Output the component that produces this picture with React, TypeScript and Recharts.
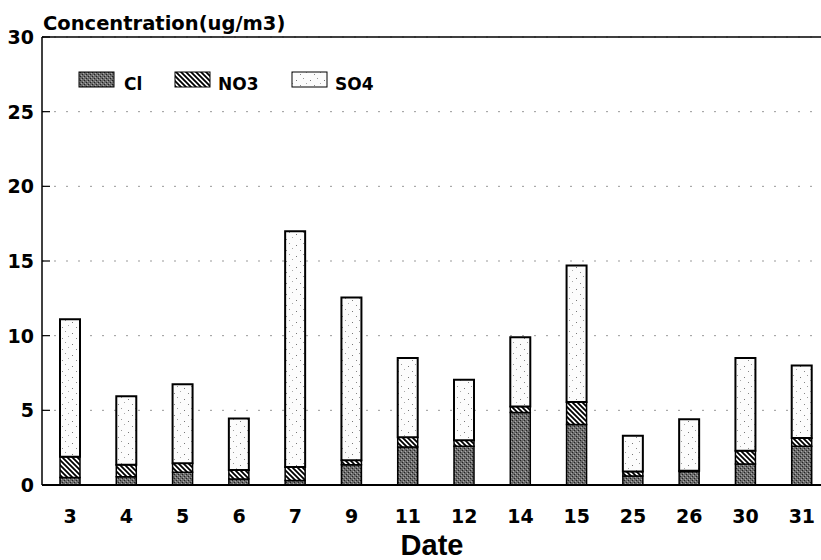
import { BarChart, Bar, XAxis, YAxis, CartesianGrid, ReferenceLine } from 'recharts';

const dates = ['3', '4', '5', '6', '7', '9', '11', '12', '14', '15', '25', '26', '30', '31'];
const clValues = [0.5, 0.55, 0.85, 0.4, 0.3, 1.35, 2.55, 2.6, 4.85, 4.05, 0.6, 0.9, 1.4, 2.6];
const no3Values = [1.4, 0.8, 0.6, 0.6, 0.9, 0.3, 0.65, 0.4, 0.4, 1.5, 0.3, 0.05, 0.9, 0.55];
const so4Values = [9.2, 4.6, 5.3, 3.45, 15.8, 10.9, 5.3, 4.05, 4.65, 9.15, 2.4, 3.45, 6.2, 4.85];
const yTicks = [0, 5, 10, 15, 20, 25, 30];

const data = dates.map((date, i) => ({
    date,
    Cl: clValues[i],
    NO3: no3Values[i],
    SO4: so4Values[i],
}));

const tickFont = '"DejaVu Sans", Verdana, sans-serif';

// y tick: label on the left, short tick mark pointing into the plot
const YTick = (props: any) => {
    const { x, y, payload } = props;
    return (
        <g>
            <text x={x} y={y} dy={7} textAnchor="end" fontFamily={tickFont} fontWeight="bold" fontSize={19} fill="#000">
                {payload.value}
            </text>
            <line x1={x + 8} x2={x + 16} y1={y} y2={y} stroke="#000" strokeWidth={1.2} />
        </g>
    );
};

const XTick = (props: any) => {
    const { x, y, payload } = props;
    return (
        <text x={x} y={y} dy={30} textAnchor="middle" fontFamily={tickFont} fontWeight="bold" fontSize={19} fill="#000">
            {payload.value}
        </text>
    );
};

const swatches = [
    { name: 'Cl', fill: 'url(#clPat)', x: 79, tx: 124 },
    { name: 'NO3', fill: 'url(#no3Pat)', x: 175, tx: 218 },
    { name: 'SO4', fill: 'url(#so4Pat)', x: 292, tx: 335 },
];

export default function App() {
    return (
        <div style={{ position: 'fixed', left: 0, top: 0, width: 821, height: 560, overflow: 'hidden', background: '#fff' }}>
            {/* fill patterns, shared with the chart svg by id */}
            <svg width={0} height={0} style={{ position: 'absolute' }}>
                <defs>
                    <pattern id="clPat" width={4} height={4} patternUnits="userSpaceOnUse">
                        <rect width={4} height={4} fill="#6b6b6b" />
                        <rect x={0} y={0} width={1} height={1} fill="#222" />
                        <rect x={2} y={2} width={1} height={1} fill="#222" />
                        <rect x={1} y={3} width={1} height={1} fill="#aaa" />
                        <rect x={3} y={1} width={1} height={1} fill="#aaa" />
                    </pattern>
                    <pattern id="no3Pat" width={5} height={5} patternUnits="userSpaceOnUse">
                        <rect width={5} height={5} fill="#fff" />
                        <path d="M-1,-1 L6,6 M-1,4 L1,6 M4,-1 L6,1" stroke="#000" strokeWidth={1.8} />
                    </pattern>
                    <pattern id="so4Pat" width={14} height={11} patternUnits="userSpaceOnUse">
                        <rect width={14} height={11} fill="#fcfcfc" />
                        <rect x={2} y={3} width={1} height={1} fill="#777" />
                        <rect x={9} y={1} width={1} height={1} fill="#999" />
                        <rect x={6} y={8} width={1} height={1} fill="#888" />
                        <rect x={12} y={6} width={1} height={1} fill="#aaa" />
                    </pattern>
                </defs>
            </svg>
            <div
                style={{
                    position: 'absolute',
                    left: 43,
                    top: 12,
                    fontFamily: tickFont,
                    fontWeight: 'bold',
                    fontSize: 19.5,
                    lineHeight: '24px',
                    zIndex: 2,
                }}
            >
                Concentration(ug/m3)
            </div>
            {/* legend */}
            <svg width={320} height={30} style={{ position: 'absolute', left: 70, top: 66, zIndex: 2 }}>
                {swatches.map((s) => (
                    <g key={s.name}>
                        <rect x={s.x - 70} y={6} width={35} height={15} fill={s.fill} stroke="#000" strokeWidth={1} />
                        <text x={s.tx - 70} y={24} fontFamily={tickFont} fontWeight="bold" fontSize={17} fill="#000">
                            {s.name}
                        </text>
                    </g>
                ))}
            </svg>
            <div
                style={{
                    position: 'absolute',
                    left: 0,
                    width: 864,
                    top: 529,
                    textAlign: 'center',
                    fontFamily: '"Liberation Sans", Arial, sans-serif',
                    fontWeight: 'bold',
                    fontSize: 29,
                    lineHeight: '32px',
                    zIndex: 2,
                }}
            >
                Date
            </div>
            <BarChart width={835} height={560} data={data} margin={{ top: 37, right: 5, left: 0, bottom: 35 }}>
                <CartesianGrid vertical={false} stroke="#999" strokeDasharray="2 10" />
                <XAxis
                    dataKey="date"
                    interval={0}
                    height={40}
                    tickLine={false}
                    tick={<XTick />}
                    axisLine={{ stroke: '#000', strokeWidth: 2 }}
                />
                <YAxis
                    width={42}
                    domain={[0, 30]}
                    ticks={yTicks}
                    tickSize={0}
                    tickMargin={8}
                    tick={<YTick />}
                    axisLine={{ stroke: '#000', strokeWidth: 1.5 }}
                />
                <ReferenceLine y={30} stroke="#000" strokeWidth={1.5} />
                <Bar dataKey="Cl" stackId="a" fill="url(#clPat)" stroke="#000" strokeWidth={1.5} barSize={20} isAnimationActive={false} />
                <Bar dataKey="NO3" stackId="a" fill="url(#no3Pat)" stroke="#000" strokeWidth={1.5} barSize={20} isAnimationActive={false} />
                <Bar dataKey="SO4" stackId="a" fill="url(#so4Pat)" stroke="#000" strokeWidth={2} barSize={20} isAnimationActive={false} />
            </BarChart>
        </div>
    );
}
